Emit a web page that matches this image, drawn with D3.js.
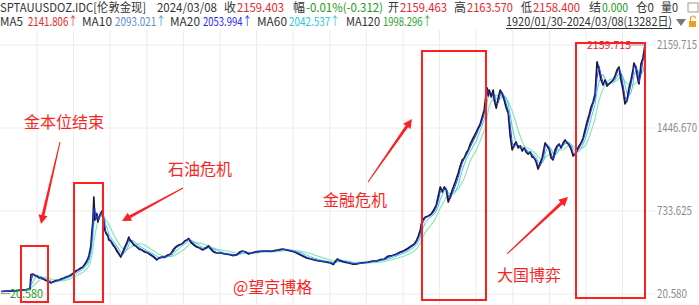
<!DOCTYPE html>
<html>
<head>
<meta charset="utf-8">
<script src="https://cdn.jsdelivr.net/npm/d3@7"></script>
<style>
  body { margin: 0; background: #fff; }
  svg { display: block; font-family: "Noto Sans CJK SC", "Noto Sans", sans-serif; }
</style>
</head>
<body>
<div id="chart"></div>
<script>
// bar number (out of 13282 daily bars) and close price
const bars = [0,103,206,309,412,515,597,618,659,700,741,782,824,865,927,988,1030,1071,1132,1194,1235,1297,1338,1400,1441,1482,1544,1585,1647,1688,1730,1771,1812,1833,1853,1874,1894,1915,1935,1956,1977,1997,2018,2038,2059,2080,2100,2121,2141,2162,2203,2224,2265,2306,2347,2388,2430,2471,2512,2553,2594,2636,2656,2697,2738,2780,2841,2903,2965,3027,3089,3150,3212,3253,3315,3377,3439,3500,3562,3603,3665,3727,3789,3830,3871,3912,3974,4036,4097,4159,4221,4283,4324,4386,4447,4530,4612,4695,4777,4859,4921,4983,5045,5106,5168,5230,5312,5395,5477,5559,5642,5724,5806,5889,5971,6053,6136,6218,6301,6383,6465,6548,6630,6712,6795,6856,6898,6939,7001,7083,7165,7248,7330,7412,7495,7577,7659,7742,7824,7907,7989,8071,8154,8236,8318,8401,8462,8524,8565,8607,8648,8668,8710,8751,8812,8874,8936,8977,9018,9060,9101,9142,9183,9224,9266,9307,9368,9430,9471,9513,9554,9595,9636,9677,9739,9801,9842,9883,9924,9966,10007,10027,10048,10069,10110,10151,10171,10213,10254,10295,10336,10377,10419,10460,10501,10542,10583,10624,10666,10707,10748,10789,10830,10872,10913,10954,10995,11036,11077,11119,11160,11201,11222,11263,11304,11345,11386,11427,11469,11510,11551,11592,11633,11675,11716,11757,11798,11839,11880,11922,11963,12004,12045,12086,12128,12169,12210,12251,12292,12333,12375,12416,12457,12498,12539,12580,12622,12663,12704,12745,12786,12828,12869,12910,12951,12992,13033,13054,13095,13136,13157,13198,13239,13281];
const closes = [42,46,46,50,55,59,64,188,192,179,175,158,162,149,137,128,115,124,137,141,149,158,167,175,184,197,218,227,244,253,278,304,347,390,433,553,639,854,656,673,708,639,673,699,716,733,691,639,570,545,519,484,476,442,424,390,364,338,381,424,459,510,484,467,442,433,407,399,381,373,356,338,313,330,338,338,356,364,407,424,442,450,476,484,497,467,442,424,416,399,416,433,407,381,373,373,364,360,351,356,381,390,381,364,373,381,386,390,390,386,394,399,407,399,390,381,364,347,330,321,313,304,300,295,287,274,304,321,304,295,287,278,278,287,291,295,304,304,317,321,347,351,364,381,394,416,433,450,476,519,570,622,665,682,691,708,751,785,862,940,897,940,914,811,862,914,983,1060,1120,1172,1189,1232,1258,1309,1361,1412,1447,1481,1541,1601,1756,1790,1722,1773,1713,1773,1687,1618,1704,1773,1739,1687,1618,1575,1378,1258,1301,1326,1275,1292,1249,1275,1240,1223,1240,1197,1189,1155,1094,1146,1189,1275,1318,1292,1266,1189,1172,1258,1292,1309,1275,1318,1344,1318,1301,1266,1206,1223,1258,1292,1318,1361,1429,1498,1558,1627,1670,1739,2014,1945,1859,1816,1859,1807,1825,1842,1859,1893,1945,1971,1859,1773,1653,1687,1790,1859,1945,2005,1962,1859,1825,1996,2048,2160];

const yTicks = [20.580, 733.625, 1446.670, 2159.715];
const totalBars = 13282;

// [text, colour, left, width]
const header1 = [
  ["SPTAUUSDOZ.IDC[伦敦金现]", "#333", 0, 146],
  ["2024/03/08", "#333", 157, 60],
  ["收", "#333", 224, 12], ["2159.403", "#e8262a", 237, 47],
  ["幅", "#333", 293, 12], ["-0.01%(-0.312)", "#1a9a1a", 306, 77],
  ["开", "#333", 388, 11], ["2159.463", "#e8262a", 400, 47],
  ["高", "#333", 454, 12], ["2163.570", "#e8262a", 467, 46],
  ["低", "#333", 521, 11], ["2158.400", "#e8262a", 533, 47],
  ["结", "#333", 589, 12], ["0.000", "#1a9a1a", 602, 26],
  ["仓0", "#333", 636, 18], ["量0", "#333", 661, 17]
];
const header2 = [
  ["MA5", "#333", 0, 23], ["2141.806↑", "#e8262a", 28, 50],
  ["MA10", "#333", 82, 30], ["2093.021↑", "#5a8fc9", 115, 51],
  ["MA20", "#333", 170, 30], ["2053.994↑", "#2727f0", 203, 49],
  ["MA60", "#333", 257, 30], ["2042.537↑", "#2cc6de", 289, 51],
  ["MA120", "#333", 346, 34], ["1998.296↑", "#2aa52a", 383, 49]
];

const W = 699, H = 305;
const svg = d3.select("#chart").append("svg").attr("width", W).attr("height", H);

const x = d3.scaleLinear().domain([0, totalBars - 1]).range([1, 645]);
const y = d3.scaleLinear().domain([yTicks[0], yTicks[3]]).range([294, 45]);

// grid
const grid = svg.append("g");
d3.range(37, 655, 36.6).forEach(gx => {
  grid.append("line").attr("x1", gx).attr("x2", gx).attr("y1", 30).attr("y2", H)
    .attr("stroke", "#ececec").attr("stroke-width", 1);
});
yTicks.forEach(t => {
  grid.append("line").attr("x1", 0).attr("x2", 655).attr("y1", y(t)).attr("y2", y(t))
    .attr("stroke", "#ececec").attr("stroke-width", 1);
});

// y axis labels on the right
svg.append("g").selectAll("text").data(yTicks).join("text")
  .attr("x", 657).attr("y", d => y(d) + 4)
  .attr("font-size", 12).attr("fill", "#8a8a8a")
  .attr("textLength", d => d.toFixed(3).length * 5)
  .attr("lengthAdjust", "spacingAndGlyphs")
  .text(d => d.toFixed(3));

// header
const hd = svg.append("g").attr("font-size", 12);
const putRow = (rows, ty) => rows.forEach(([t, c, px, w]) =>
  hd.append("text").attr("x", px).attr("y", ty).attr("fill", c)
    .attr("textLength", w).attr("lengthAdjust", "spacingAndGlyphs").text(t));
putRow(header1, 12);
putRow(header2, 26);
hd.append("text").attr("x", 506).attr("y", 26).attr("fill", "#333")
  .attr("textLength", 166).attr("lengthAdjust", "spacingAndGlyphs").text("1920/01/30-2024/03/08(13282日)");
hd.append("line").attr("x1", 506).attr("x2", 672).attr("y1", 28.5).attr("y2", 28.5).attr("stroke", "#333");
hd.append("path").attr("d", "M676,19 L686,19 L681,26 Z").attr("fill", "#777");
hd.append("rect").attr("x", 689).attr("y", 21).attr("width", 7).attr("height", 6).attr("fill", "#f0a020");
hd.append("path").attr("d", "M690.5,21 V18.5 a2.5,2.5 0 0 1 5,0").attr("fill", "none").attr("stroke", "#f0a020").attr("stroke-width", 1.2);
hd.append("rect").attr("x", 688).attr("y", 3).attr("width", 10).attr("height", 9).attr("fill", "none").attr("stroke", "#999");

// price data
const data = bars.map((b, i) => ({ b, v: closes[i] }));
const ma = (n) => data.map((d, i) => {
  const s = data.slice(Math.max(0, i - n + 1), i + 1);
  return { b: d.b, v: d3.mean(s, e => e.v) };
});

const line = d3.line().x(d => x(d.b)).y(d => y(d.v));

svg.append("path").datum(ma(8)).attr("d", line)
  .attr("fill", "none").attr("stroke", "#8fe6b4").attr("stroke-width", 1.2);
svg.append("path").datum(ma(4)).attr("d", line)
  .attr("fill", "none").attr("stroke", "#39d0e0").attr("stroke-width", 1);
svg.append("path").datum(data).attr("d", line)
  .attr("fill", "none").attr("stroke", "#1a1a30").attr("stroke-width", 1.7).attr("stroke-linejoin", "round");
svg.append("path").datum(ma(2)).attr("d", line)
  .attr("fill", "none").attr("stroke", "#2b3cf0").attr("stroke-width", 1);

// max / min markers
const maxD = data[d3.maxIndex(data, d => d.v)];
const minD = data[d3.minIndex(data, d => d.v)];
svg.append("line").attr("x1", x(maxD.b) - 14).attr("x2", x(maxD.b)).attr("y1", y(maxD.v)).attr("y2", y(maxD.v)).attr("stroke", "#999");
svg.append("text").attr("x", 587).attr("y", y(maxD.v) + 4)
  .attr("font-size", 11).attr("fill", "#e8262a")
  .attr("textLength", 44).attr("lengthAdjust", "spacingAndGlyphs").text(yTicks[3].toFixed(3));
svg.append("line").attr("x1", x(minD.b)).attr("x2", x(minD.b) + 9).attr("y1", y(minD.v) + 2).attr("y2", y(minD.v) + 2).attr("stroke", "#999");
svg.append("text").attr("x", 10).attr("y", 298)
  .attr("font-size", 12).attr("fill", "#2a9a2a")
  .attr("textLength", 33).attr("lengthAdjust", "spacingAndGlyphs").text(yTicks[0].toFixed(3));

// annotations
const red = "#ff1f1f";
const ann = svg.append("g");
[[21, 246, 27, 56], [74, 183, 29, 119], [422, 51, 64, 249], [576, 43, 69, 255]].forEach(([bx, by, bw, bh]) => {
  ann.append("rect").attr("x", bx).attr("y", by).attr("width", bw).attr("height", bh)
    .attr("fill", "none").attr("stroke", red).attr("stroke-width", 2);
});
function arrow(x1, y1, x2, y2) {
  const a = Math.atan2(y2 - y1, x2 - x1), L = 9, hw = 4.5;
  const bx = x2 - L * Math.cos(a), by = y2 - L * Math.sin(a);
  const nx = -Math.sin(a), ny = Math.cos(a);
  ann.append("path")
    .attr("d", `M${x1 + nx * 0.5},${y1 + ny * 0.5} L${bx + nx * 1.5},${by + ny * 1.5} L${bx + nx * hw},${by + ny * hw} L${x2},${y2} L${bx - nx * hw},${by - ny * hw} L${bx - nx * 1.5},${by - ny * 1.5} L${x1 - nx * 0.5},${y1 - ny * 0.5} Z`)
    .attr("fill", red);
}
arrow(60, 142, 41, 224);
arrow(183, 188, 122, 221);
arrow(368, 182, 412, 119);
arrow(507, 254, 568, 197);

[["金本位结束", 24, 128], ["石油危机", 168, 175], ["金融危机", 323, 206], ["大国博弈", 497, 281], ["@望京博格", 233, 293]]
  .forEach(([t, tx, ty]) => ann.append("text").attr("x", tx).attr("y", ty).attr("font-size", 16).attr("fill", red).text(t));
</script>
</body>
</html>
